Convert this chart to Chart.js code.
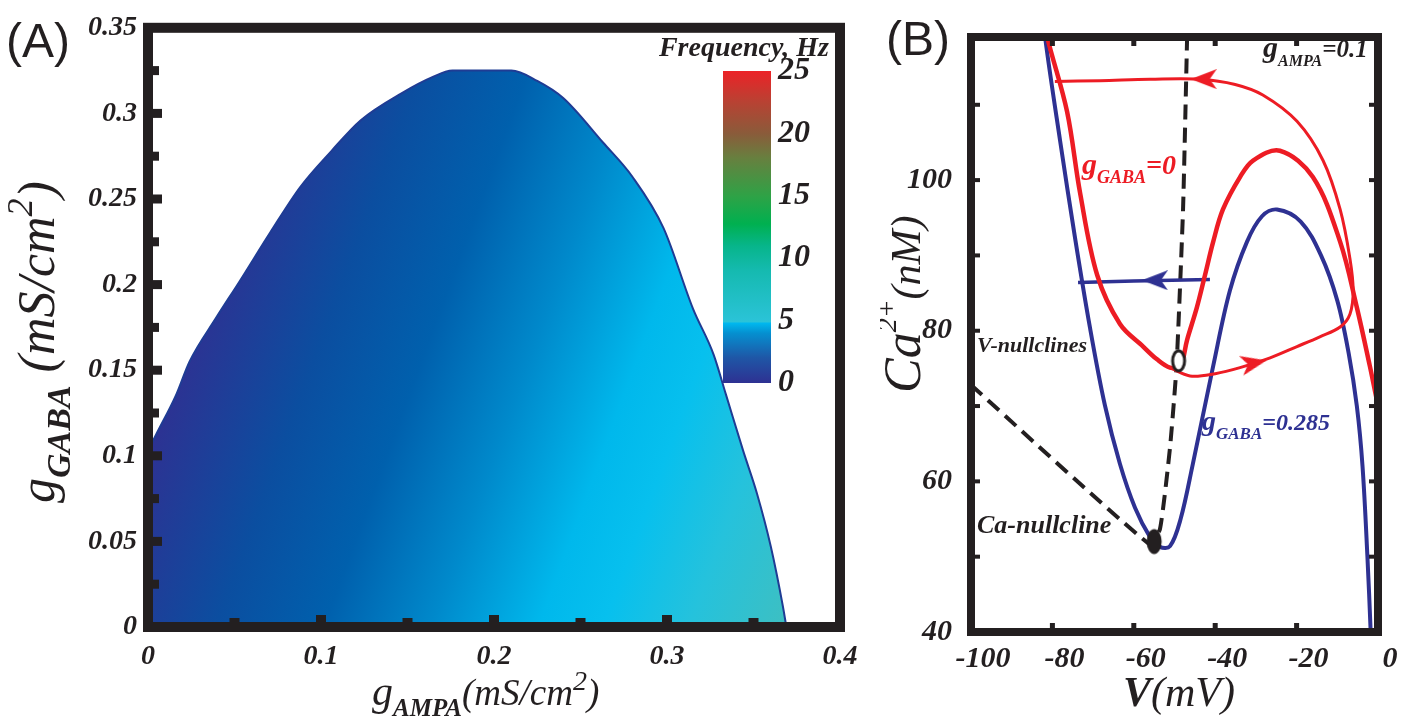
<!DOCTYPE html>
<html>
<head>
<meta charset="utf-8">
<script src="https://cdn.jsdelivr.net/npm/chart.js@4.4.0/dist/chart.umd.min.js"></script>
<style>
  body { margin: 0; background: #fff; width: 1424px; height: 719px; overflow: hidden; position: relative; }
  .box { position: absolute; }
</style>
</head>
<body>
<div class="box" style="left:0;top:0;width:880px;height:719px"><canvas id="chartA" width="880" height="719"></canvas></div>
<div class="box" style="left:700px;top:0;width:140px;height:420px"><canvas id="chartCB" width="140" height="420"></canvas></div>
<div class="box" style="left:880px;top:0;width:544px;height:719px"><canvas id="chartB" width="544" height="719"></canvas></div>
<script>
const SERIF = '"Liberation Serif", "Times New Roman", serif';
const INK = "#231f20";
const RED = "#ed1c24";
const BLUE = "#2e3192";

// ---- panel A: edge of the oscillating region (g_AMPA, g_GABA)
const edgeAmpa = [0, 0.005, 0.016, 0.024, 0.039, 0.053, 0.071, 0.088, 0.106, 0.123, 0.147, 0.164, 0.176, 0.21, 0.225, 0.24, 0.263, 0.28, 0.298, 0.315, 0.327, 0.334, 0.344, 0.352, 0.36, 0.367, 0.369];
const edgeGaba = [0.103, 0.113, 0.135, 0.155, 0.18, 0.202, 0.231, 0.257, 0.278, 0.296, 0.312, 0.321, 0.325, 0.325, 0.319, 0.309, 0.283, 0.263, 0.233, 0.186, 0.159, 0.136, 0.103, 0.078, 0.047, 0.012, 0];
const ampaTicks = [0, 0.1, 0.2, 0.3, 0.4];
const gabaTicks = [0, 0.05, 0.1, 0.15, 0.2, 0.25, 0.3, 0.35];

// ---- colorbar
const freqRange = [0, 25];
const freqTicks = [0, 5, 10, 15, 20, 25];

// ---- panel B: phase plane (V in mV, Ca in nM)
const blueNullV = [-82.6, -81.8, -78.1, -74.4, -70.8, -67.1, -63.4, -59.7, -56.0, -53.6, -51.1, -48.5, -45.5, -40.5, -36.4, -32.2, -28.5, -24.8, -19, -14, -10, -7.2, -5.2, -3.8, -2.6, -1.8, -1.5];
const blueNullCa = [124, 119, 105.2, 92.2, 80.5, 70.1, 62.3, 56.5, 52.6, 51.3, 51.4, 55, 62.3, 75.3, 85.3, 91.8, 95.2, 96.1, 94.5, 90, 84, 77, 70, 62, 50, 40, 35];
const redNullV = [-83.3, -81.1, -76.4, -73.2, -69.0, -63.4, -57.7, -54.3, -51.1, -48.6, -46.9, -44.5, -42.5, -40.5, -38.1, -33.9, -30.7, -24.1, -16.0, -9.3, -5.2, -2.0, 0, 1];
const redNullCa = [124, 118.6, 109.1, 98.3, 87.4, 80.9, 77.9, 76.2, 75.1, 75.3, 78.8, 83.1, 87.4, 91.8, 96.1, 100.4, 102.6, 103.9, 100.4, 91.8, 83.1, 75.3, 70.1, 68];
const redCycleV = [-51.1, -46.2, -40.0, -33.9, -26.5, -19.9, -14.3, -9.3, -6.9, -6.1, -6.9, -9.3, -13.5, -19.9, -28.3, -35.1, -43.7, -56, -68.3, -79.4];
const redCycleCa = [75.1, 74.0, 74.3, 75.1, 76.4, 77.9, 79.2, 80.5, 82.2, 85.3, 89.6, 96.1, 102.6, 107.8, 111.3, 112.7, 113.4, 113.4, 113.2, 113.1];
const blueCycleV = [-73.7, -60, -41.3];
const blueCycleCa = [86.4, 86.6, 86.8];
const caNullV = [-100, -56.5, -53.6, -51.1, -49.5, -47.9, -46.9];
const caNullCa = [72.8, 51.8, 53.6, 64.5, 75.3, 96.1, 119];
const openPointV = [-49], openPointCa = [76];
const stablePointV = [-55], stablePointCa = [52];
const redArrowV = [-42.8, -30.5], redArrowCa = [113.4, 75.7], redArrowTurn = [180, -12];
const blueArrowV = [-54.8], blueArrowCa = [86.7], blueArrowTurn = [180];
const vTicks = [-100, -80, -60, -40, -20, 0];
const caTicks = [40, 60, 80, 100];

const xy = (xs, ys) => xs.map((x, i) => ({ x: x, y: ys[i] }));

function rich(ctx, x, y, parts, angle, align) {
  ctx.save();
  ctx.translate(x, y);
  if (angle) ctx.rotate(angle);
  ctx.textBaseline = "alphabetic";
  ctx.textAlign = "left";
  let total = 0;
  parts.forEach(p => { ctx.font = p.font; p.w = ctx.measureText(p.t).width; total += p.w; });
  let cx = align === "center" ? -total / 2 : align === "right" ? -total : 0;
  parts.forEach(p => {
    ctx.font = p.font;
    ctx.fillStyle = p.color || INK;
    ctx.fillText(p.t, cx, p.dy || 0);
    cx += p.w;
  });
  ctx.restore();
}

function tickFont(size) {
  return { family: SERIF, size: size, style: "italic", weight: "bold" };
}

function areaGradient(context) {
  const c = context.chart;
  if (!c.chartArea) return "transparent";
  const sx = c.scales.x, sy = c.scales.y;
  const g = c.ctx.createLinearGradient(sx.getPixelForValue(0.072), sy.getPixelForValue(0.306),
                                       sx.getPixelForValue(0.437), sy.getPixelForValue(0.170));
  g.addColorStop(0, "#2e3192");
  g.addColorStop(0.19, "#0b4ea0");
  g.addColorStop(0.34, "#0060ad");
  g.addColorStop(0.49, "#0089cb");
  g.addColorStop(0.64, "#00b8ec");
  g.addColorStop(0.73, "#07c0ee");
  g.addColorStop(0.85, "#25c2dc");
  g.addColorStop(1, "#40bfbf");
  return g;
}

function barGradient(context) {
  const c = context.chart;
  if (!c.chartArea) return "transparent";
  const sy = c.scales.y;
  const g = c.ctx.createLinearGradient(0, sy.getPixelForValue(0), 0, sy.getPixelForValue(25));
  g.addColorStop(0, "#2e3192");
  g.addColorStop(0.08, "#1f56a6");
  g.addColorStop(0.16, "#0590d0");
  g.addColorStop(0.192, "#00b8ef");
  g.addColorStop(0.196, "#2bc3d8");
  g.addColorStop(0.36, "#15bab0");
  g.addColorStop(0.44, "#07b58a");
  g.addColorStop(0.51, "#00b050");
  g.addColorStop(0.6, "#2fa246");
  g.addColorStop(0.72, "#67803f");
  g.addColorStop(0.8, "#8a5b3a");
  g.addColorStop(0.9, "#b84233");
  g.addColorStop(1, "#ec2227");
  return g;
}

// frame, inward ticks and labels of panel A
const decorA = {
  id: "decorA",
  afterDatasetsDraw(chart) {
    const ctx = chart.ctx, a = chart.chartArea;
    const sx = chart.scales.x, sy = chart.scales.y;
    ctx.save();
    ctx.fillStyle = INK;
    for (let v = 0.025; v < 0.34; v += 0.025) {
      const major = Math.abs(v / 0.05 - Math.round(v / 0.05)) < 1e-6;
      const len = major ? 9 : 6;
      ctx.fillRect(a.left, sy.getPixelForValue(v) - 4.5, 5 + len, 9);
    }
    for (let v = 0.05; v < 0.39; v += 0.05) {
      const major = Math.abs(v / 0.1 - Math.round(v / 0.1)) < 1e-6;
      const len = major ? 7 : 4;
      ctx.fillRect(sx.getPixelForValue(v) - 5, a.bottom - 5 - len, 10, 5 + len);
    }
    ctx.strokeStyle = INK;
    ctx.lineWidth = 10;
    ctx.strokeRect(a.left, a.top, a.right - a.left, a.bottom - a.top);
    ctx.restore();

    ctx.save();
    ctx.fillStyle = INK;
    ctx.font = '48px "Liberation Sans", Arial, sans-serif';
    ctx.fillText("(A)", 6, 57);
    ctx.textAlign = "right";
    ctx.font = "italic bold 28px " + SERIF;
    ctx.fillText("Frequency, Hz", 829, 56);
    ctx.restore();

    rich(ctx, 54, 503, [
      { t: "g", font: "italic 50px " + SERIF },
      { t: "GABA", font: "italic bold 34px " + SERIF, dy: 16 },
      { t: " (mS/cm", font: "italic 52px " + SERIF },
      { t: "2", font: "italic 36px " + SERIF, dy: -22 },
      { t: ")", font: "italic 52px " + SERIF }
    ], -Math.PI / 2, "left");

    rich(ctx, 372, 705, [
      { t: "g", font: "italic 42px " + SERIF },
      { t: "AMPA", font: "italic bold 25px " + SERIF, dy: 11 },
      { t: "(mS/cm", font: "italic 37px " + SERIF },
      { t: "2", font: "italic 28px " + SERIF, dy: -15 },
      { t: ")", font: "italic 37px " + SERIF }
    ], 0, "left");
  }
};

// frame, inward ticks and labels of panel B
const decorB = {
  id: "decorB",
  afterDatasetsDraw(chart) {
    const ctx = chart.ctx, a = chart.chartArea;
    const sx = chart.scales.x, sy = chart.scales.y;
    ctx.save();
    ctx.fillStyle = INK;
    [-80, -60, -40, -20].forEach(v => {
      const px = sx.getPixelForValue(v);
      ctx.fillRect(px - 2.5, a.top, 5, 9);
      ctx.fillRect(px - 2.5, a.bottom - 9, 5, 9);
    });
    [50, 60, 70, 80, 90, 100, 110].forEach(v => {
      const py = sy.getPixelForValue(v);
      ctx.fillRect(a.left, py - 2, 9, 4);
      ctx.fillRect(a.right - 9, py - 2, 9, 4);
    });
    ctx.strokeStyle = INK;
    ctx.lineWidth = 8;
    ctx.strokeRect(a.left, a.top, a.right - a.left, a.bottom - a.top);
    ctx.font = '48px "Liberation Sans", Arial, sans-serif';
    ctx.fillText("(B)", 6, 55);
    ctx.restore();

    rich(ctx, 40, 393, [
      { t: "Ca", font: "italic 52px " + SERIF },
      { t: "2+", font: "italic 28px " + SERIF, dy: -24 },
      { t: "(nM)", font: "italic 42px " + SERIF }
    ], -Math.PI / 2, "left");
    rich(ctx, 243, 706, [
      { t: "V", font: "italic bold 42px " + SERIF },
      { t: "(mV)", font: "italic 42px " + SERIF }
    ], 0, "left");
    rich(ctx, 383, 57, [
      { t: "g", font: "italic bold 30px " + SERIF },
      { t: "AMPA", font: "italic bold 16px " + SERIF, dy: 9 },
      { t: "=0.1", font: "italic bold 25px " + SERIF }
    ], 0, "left");
    rich(ctx, 202, 174, [
      { t: "g", font: "italic bold 30px " + SERIF, color: RED },
      { t: "GABA", font: "italic bold 18px " + SERIF, dy: 9, color: RED },
      { t: "=0", font: "italic bold 28px " + SERIF, color: RED }
    ], 0, "left");
    rich(ctx, 322, 430, [
      { t: "g", font: "italic bold 28px " + SERIF, color: BLUE },
      { t: "GABA", font: "italic bold 17px " + SERIF, dy: 9, color: BLUE },
      { t: "=0.285", font: "italic bold 24px " + SERIF, color: BLUE }
    ], 0, "left");
    rich(ctx, 97, 352, [{ t: "V-nullclines", font: "italic bold 22px " + SERIF }], 0, "left");
    rich(ctx, 97, 533, [{ t: "Ca-nullcline", font: "italic bold 26px " + SERIF }], 0, "left");
  }
};

function arrowHead(color) {
  const c = document.createElement("canvas");
  c.width = 26; c.height = 20;
  const g = c.getContext("2d");
  g.fillStyle = color;
  g.beginPath();
  g.moveTo(26, 10); g.lineTo(0, 0); g.lineTo(7, 10); g.lineTo(0, 20);
  g.closePath();
  g.fill();
  return c;
}

function ellipseMark(filled) {
  const c = document.createElement("canvas");
  c.width = 18; c.height = 28;
  const g = c.getContext("2d");
  g.beginPath();
  if (filled) {
    g.ellipse(9, 14, 7.5, 12.5, 0, 0, 2 * Math.PI);
    g.fillStyle = INK; g.fill();
  } else {
    g.ellipse(9, 14, 6, 10, 0, 0, 2 * Math.PI);
    g.fillStyle = "#fff"; g.fill();
    g.lineWidth = 3; g.strokeStyle = INK; g.stroke();
  }
  return c;
}

const common = {
  responsive: false,
  animation: false,
  events: [],
  plugins: { legend: { display: false }, tooltip: { enabled: false } }
};

function axis(extra) {
  return Object.assign({
    type: "linear",
    grid: { display: false, drawTicks: false },
    border: { display: false }
  }, extra);
}

new Chart(document.getElementById("chartA"), {
  type: "line",
  data: {
    datasets: [{
      label: "oscillations",
      data: xy(edgeAmpa, edgeGaba),
      fill: "origin",
      backgroundColor: areaGradient,
      borderColor: "#1f3c94",
      borderWidth: 2,
      pointRadius: 0,
      cubicInterpolationMode: "monotone"
    }]
  },
  options: Object.assign({}, common, {
    layout: { padding: { left: 0, top: 25, right: 40, bottom: 0 } },
    scales: {
      x: axis({
        min: 0, max: 0.4,
        afterBuildTicks: s => { s.ticks = ampaTicks.map(v => ({ value: v })); },
        afterFit: s => { s.height = 92; },
        ticks: { padding: 13, maxRotation: 0, autoSkip: false, color: INK, font: tickFont(28), callback: v => String(v) }
      }),
      y: axis({
        min: 0, max: 0.35,
        afterBuildTicks: s => { s.ticks = gabaTicks.map(v => ({ value: v })); },
        afterFit: s => { s.width = 148; },
        ticks: { padding: 11, autoSkip: false, color: INK, font: tickFont(28), callback: v => String(v) }
      })
    }
  }),
  plugins: [decorA]
});

new Chart(document.getElementById("chartCB"), {
  type: "bar",
  data: {
    labels: ["Frequency"],
    datasets: [{ data: [freqRange], backgroundColor: barGradient, borderWidth: 0, barPercentage: 1, categoryPercentage: 1 }]
  },
  options: Object.assign({}, common, {
    layout: { padding: { left: 23, top: 71, right: 0, bottom: 37 } },
    scales: {
      x: { display: false },
      y: axis({
        position: "right",
        min: 0, max: 25,
        afterBuildTicks: s => { s.ticks = freqTicks.map(v => ({ value: v })); },
        afterFit: s => { s.width = 69; },
        ticks: { padding: 7, autoSkip: false, color: INK, font: tickFont(32), callback: v => String(v) }
      })
    }
  })
});

const lineSet = (label, pts, color, width, extra) => Object.assign({
  label: label, data: pts, borderColor: color, backgroundColor: color,
  borderWidth: width, pointRadius: 0, tension: 0.35, fill: false
}, extra || {});

new Chart(document.getElementById("chartB"), {
  type: "line",
  data: {
    datasets: [
      { label: "unstable", data: xy(openPointV, openPointCa), showLine: false, pointStyle: ellipseMark(false), pointRadius: 6 },
      { label: "stable", data: xy(stablePointV, stablePointCa), showLine: false, pointStyle: ellipseMark(true), pointRadius: 6 },
      { label: "red arrows", data: xy(redArrowV, redArrowCa), showLine: false, pointStyle: arrowHead(RED), pointRotation: redArrowTurn, pointRadius: 6 },
      { label: "blue arrow", data: xy(blueArrowV, blueArrowCa), showLine: false, pointStyle: arrowHead(BLUE), pointRotation: blueArrowTurn, pointRadius: 6 },
      lineSet("cycle gGABA=0", xy(redCycleV, redCycleCa), RED, 3),
      lineSet("V-nullcline gGABA=0", xy(redNullV, redNullCa), RED, 4.5),
      lineSet("V-nullcline gGABA=0.285", xy(blueNullV, blueNullCa), BLUE, 4),
      lineSet("trajectory gGABA=0.285", xy(blueCycleV, blueCycleCa), BLUE, 3.5),
      lineSet("Ca-nullcline", xy(caNullV, caNullCa), INK, 4, { borderDash: [15, 8], tension: 0.15 })
    ]
  },
  options: Object.assign({}, common, {
    layout: { padding: { left: 0, top: 24, right: 46, bottom: 0 } },
    scales: {
      x: axis({
        min: -100, max: 0,
        afterBuildTicks: s => { s.ticks = vTicks.map(v => ({ value: v })); },
        afterFit: s => { s.height = 87; },
        ticks: { padding: 9, labelOffset: 12, maxRotation: 0, autoSkip: false, color: INK, font: tickFont(30), callback: v => String(v) }
      }),
      y: axis({
        min: 40, max: 119,
        afterBuildTicks: s => { s.ticks = caTicks.map(v => ({ value: v })); },
        afterFit: s => { s.width = 91; },
        ticks: { padding: 19, autoSkip: false, color: INK, font: tickFont(30), callback: v => String(v) }
      })
    }
  }),
  plugins: [decorB]
});
</script>
</body>
</html>
